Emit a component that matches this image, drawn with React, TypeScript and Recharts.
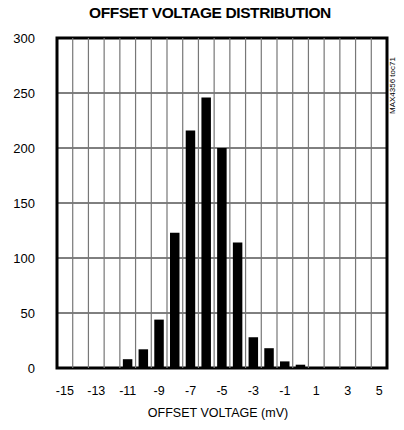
import React from 'react';
import {
  BarChart,
  Bar,
  XAxis,
  YAxis,
  CartesianGrid,
  ReferenceLine,
  ReferenceArea,
} from 'recharts';

// offset voltage bins (mV) and unit counts
const bins = [-11, -10, -9, -8, -7, -6, -5, -4, -3, -2, -1, 0];
const counts = [8, 17, 44, 123, 216, 246, 200, 114, 28, 18, 6, 3];

const xTicks = [-15, -13, -11, -9, -7, -5, -3, -1, 1, 3, 5];
const yTicks = [0, 50, 100, 150, 200, 250, 300];
const gridX = [
  -14.5, -13.5, -12.5, -11.5, -10.5, -9.5, -8.5, -7.5, -6.5, -5.5, -4.5,
  -3.5, -2.5, -1.5, -0.5, 0.5, 1.5, 2.5, 3.5, 4.5,
];

const data = bins.map((b, i) => ({ mv: b, count: counts[i] }));

const font = '"Liberation Sans", Arial, sans-serif';

const App: React.FC = () => {
  return (
    <div style={{ position: 'absolute', left: 0, top: 0, width: 404, height: 430, background: '#fff', fontFamily: font }}>
      <div
        style={{
          position: 'absolute',
          top: 4,
          left: 0,
          width: 420,
          textAlign: 'center',
          fontWeight: 'bold',
          fontSize: 15.5,
          letterSpacing: -0.4,
        }}
      >
        OFFSET VOLTAGE DISTRIBUTION
      </div>
      <div
        style={{
          position: 'absolute',
          left: 388,
          top: 38,
          width: 12,
          height: 76,
          fontSize: 8,
          writingMode: 'vertical-rl',
          transform: 'rotate(180deg)',
          whiteSpace: 'nowrap',
        }}
      >
        MAX4356 toc71
      </div>
      <BarChart
        width={404}
        height={430}
        data={data}
        margin={{ top: 38, right: 17, left: 12, bottom: 0 }}
      >
        <CartesianGrid vertical={false} stroke="#000" strokeWidth={1} />
        {gridX.map((x) => (
          <ReferenceLine key={x} x={x} stroke="#777" strokeWidth={1.2} />
        ))}
        <XAxis
          dataKey="mv"
          type="number"
          domain={[-15.5, 5.5]}
          ticks={xTicks}
          interval={0}
          axisLine={false}
          tickLine={false}
          tickMargin={12}
          height={62}
          tick={{ fill: '#000', fontSize: 12.5, fontFamily: font }}
          label={{
            value: 'OFFSET VOLTAGE (mV)',
            position: 'insideBottom',
            offset: 13,
            fill: '#000',
            fontSize: 12.5,
            fontFamily: font,
            dx: -4,
          }}
        />
        <YAxis
          type="number"
          domain={[0, 300]}
          ticks={yTicks}
          interval={0}
          width={45}
          axisLine={false}
          tickLine={false}
          tickMargin={16}
          tick={{ fill: '#000', fontSize: 13, fontFamily: font }}
        />
        <Bar dataKey="count" fill="#000" barSize={9.5} isAnimationActive={false} />
        <ReferenceArea
          x1={-15.5}
          x2={5.5}
          y1={0}
          y2={300}
          fill="none"
          stroke="#000"
          strokeWidth={3}
          ifOverflow="visible"
        />
      </BarChart>
    </div>
  );
};

export default App;
